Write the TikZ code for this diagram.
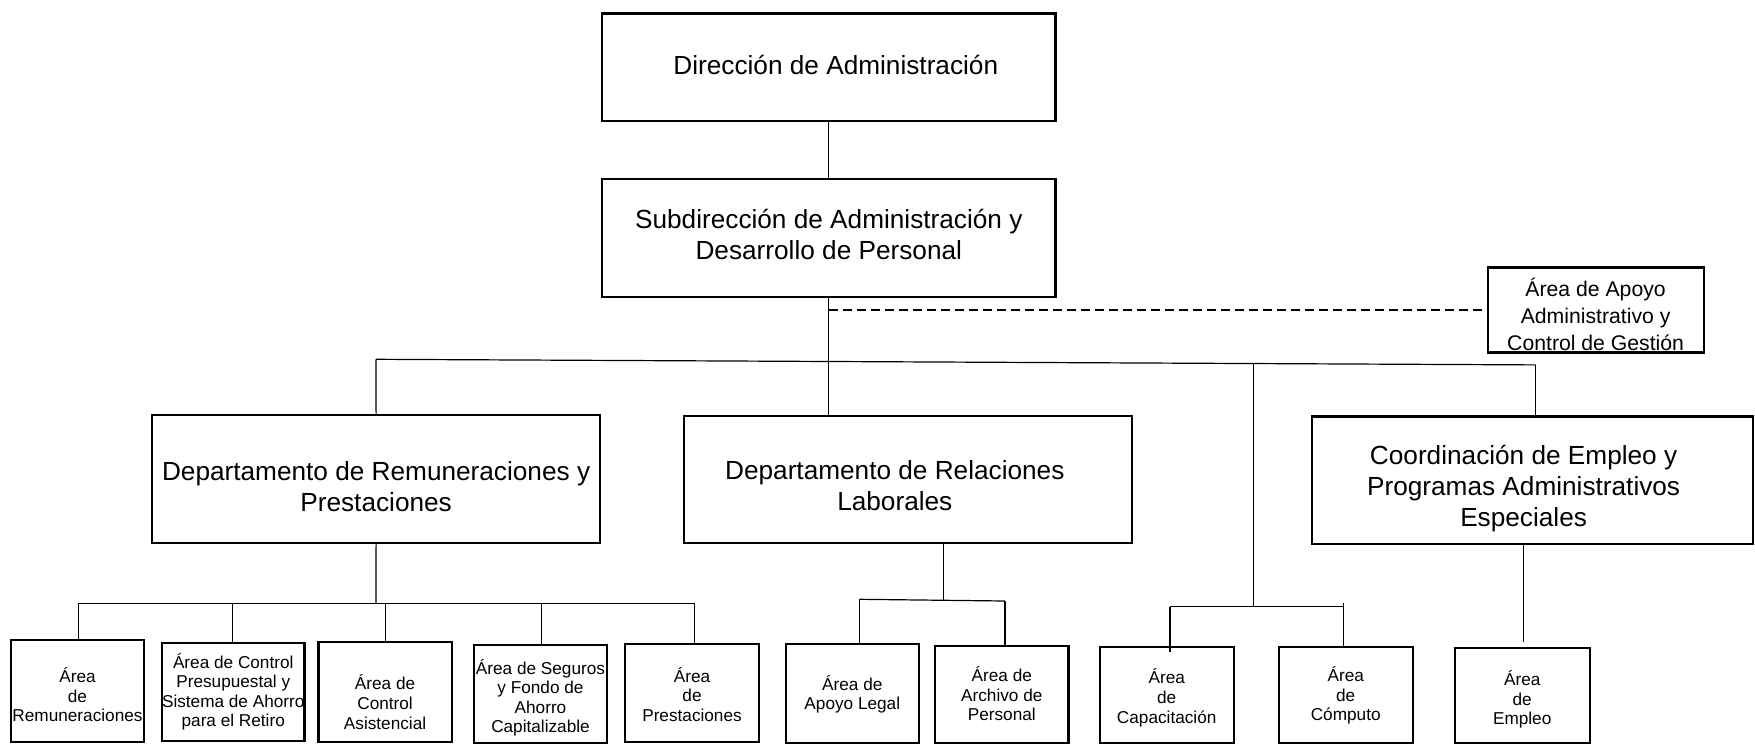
\documentclass[tikz,border=0pt]{standalone}
\usepackage{fontspec}
\setmainfont{Liberation Sans}
\newcommand{\lowtext}[2]{\raisebox{-#1}[\height][\depth]{\begin{tabular}{@{}c@{}}#2\end{tabular}}}
\begin{document}
\begin{tikzpicture}[x=0.5pt,y=-0.5pt,
  box/.style={draw, line width=1.1pt, inner sep=0pt},
  big/.style={font=\fontsize{13.1}{15.6}\selectfont},
  mid/.style={font=\fontsize{10.6}{13.5}\selectfont},
  small/.style={font=\fontsize{8.6}{9.8}\selectfont},
  conn/.style={line width=0.6pt},
  dashconn/.style={line width=1pt, dash pattern=on 4.5pt off 2.5pt},
]
\useasboundingbox (0,0) rectangle (1755,744);

% upper levels
\node[box,big,minimum width=226.75pt,minimum height=53.8pt] (dir) at (828.8,67.2)
  {\kern7pt\lowtext{0.5pt}{Dirección de Administración}};
\node[box,big,minimum width=226.75pt,minimum height=58.8pt] (sub) at (828.8,237.8)
  {\lowtext{0pt}{Subdirección de Administración y\\Desarrollo de Personal}};
\node[box,mid,minimum width=108pt,minimum height=42.5pt] (apoyo) at (1595.6,310)
  {\lowtext{4.2pt}{Área de Apoyo\\Administrativo y\\Control de Gestión}};

\node[box,big,minimum width=223.9pt,minimum height=63.8pt] (rem) at (376.1,479.1)
  {\lowtext{5.2pt}{Departamento de Remuneraciones y\\Prestaciones}};
\node[box,big,minimum width=223.85pt,minimum height=63.25pt] (rel) at (907.8,479.6)
  {\lowtext{4.4pt}{Departamento de Relaciones\\Laborales}\kern13pt};
\node[box,big,minimum width=220.6pt,minimum height=63.8pt] (coord) at (1532.6,480.2)
  {\lowtext{4.4pt}{Coordinación de Empleo y\\Programas Administrativos\\Especiales}\kern9pt};

% bottom level
\node[box,small,minimum width=66.5pt,minimum height=51pt] (b1) at (77.5,691)
  {\lowtext{3.4pt}{Área\\de\\Remuneraciones}};
\node[box,small,minimum width=71.25pt,minimum height=49.15pt] (b2) at (233.25,691.85)
  {\lowtext{0.6pt}{Área de Control\\Presupuestal y\\Sistema de Ahorro\\para el Retiro}};
\node[box,small,minimum width=66.65pt,minimum height=50pt] (b3) at (385.05,692)
  {\lowtext{6.5pt}{Área de\\Control\\Asistencial}};
\node[box,small,minimum width=66.5pt,minimum height=49pt] (b4) at (540.5,694)
  {\lowtext{2.5pt}{Área de Seguros\\y Fondo de\\Ahorro\\Capitalizable}};
\node[box,small,minimum width=67pt,minimum height=49pt] (b5) at (692,693)
  {\lowtext{2.1pt}{Área\\de\\Prestaciones}};
\node[box,small,minimum width=66.6pt,minimum height=49.35pt] (b6) at (852.3,693.65)
  {\lowtext{0.9pt}{Área de\\Apoyo Legal}};
\node[box,small,minimum width=66.6pt,minimum height=48.65pt] (b7) at (1001.8,694.35)
  {\lowtext{1.2pt}{Área de\\Archivo de\\Personal}};
\node[box,small,minimum width=66.9pt,minimum height=48.15pt] (b8) at (1166.7,694.85)
  {\lowtext{2.1pt}{Área\\de\\Capacitación}};
\node[box,small,minimum width=66.9pt,minimum height=48.15pt] (b9) at (1345.7,694.85)
  {\lowtext{0.9pt}{Área\\de\\Cómputo}};
\node[box,small,minimum width=67.5pt,minimum height=47.35pt] (b10) at (1522.2,695.65)
  {\lowtext{2.6pt}{Área\\de\\Empleo}};

% connector points
\coordinate (busL) at (376,359.3);
\coordinate (busR) at (1535.7,364.9);
\coordinate (busC) at (1253.7,363.5);
\coordinate (capbus) at (1253.7,606.7);
\coordinate (capL) at (1170,606.7);
\coordinate (capR) at (1343.5,606.7);
\coordinate (capRtop) at (1343.5,603.3);
\coordinate (capLend) at (1170,651.7);
\coordinate (rembus) at (376,603.3);
\coordinate (remL) at (78.6,603.3);
\coordinate (remR) at (694.5,603.3);
\coordinate (remB) at (232.3,603.3);
\coordinate (remC) at (385.6,603.3);
\coordinate (remD) at (541.8,603.3);
\coordinate (relbusL) at (859.8,599.3);
\coordinate (relbusR) at (1004.9,601);
\coordinate (reldrop) at (943.4,599.6);
\coordinate (empend) at (1523.8,641.7);

% connectors
\draw[conn] (dir.south) -- (sub.north);
\draw[conn] (sub.south) -- (sub.south |- rel.north);
\draw[dashconn] (sub.south |- apoyo.west) -- (apoyo.west);
\draw[conn] (busL) -- (busR);
\draw[conn] (busL) -- (rem.north);
\draw[conn] (busR) -- (busR |- coord.north);
\draw[conn] (busC) -- (capbus);
\draw[conn] (capL) -- (capR);
\draw[conn] (capLend) -- (capL);
\draw[conn] (capRtop) -- (capRtop |- b9.north);

\draw[conn] (rem.south) -- (rembus);
\draw[conn] (remL) -- (remR);
\draw[conn] (remL) -- (remL |- b1.north);
\draw[conn] (remB) -- (remB |- b2.north);
\draw[conn] (remC) -- (remC |- b3.north);
\draw[conn] (remD) -- (remD |- b4.north);
\draw[conn] (remR) -- (remR |- b5.north);

\draw[conn] (rel.south -| reldrop) -- (reldrop);
\draw[conn] (relbusL) -- (relbusR);
\draw[conn] (relbusL) -- (relbusL |- b6.north);
\draw[conn] (relbusR) -- (relbusR |- b7.north);

\draw[conn] (coord.south -| empend) -- (empend);
\end{tikzpicture}
\end{document}
